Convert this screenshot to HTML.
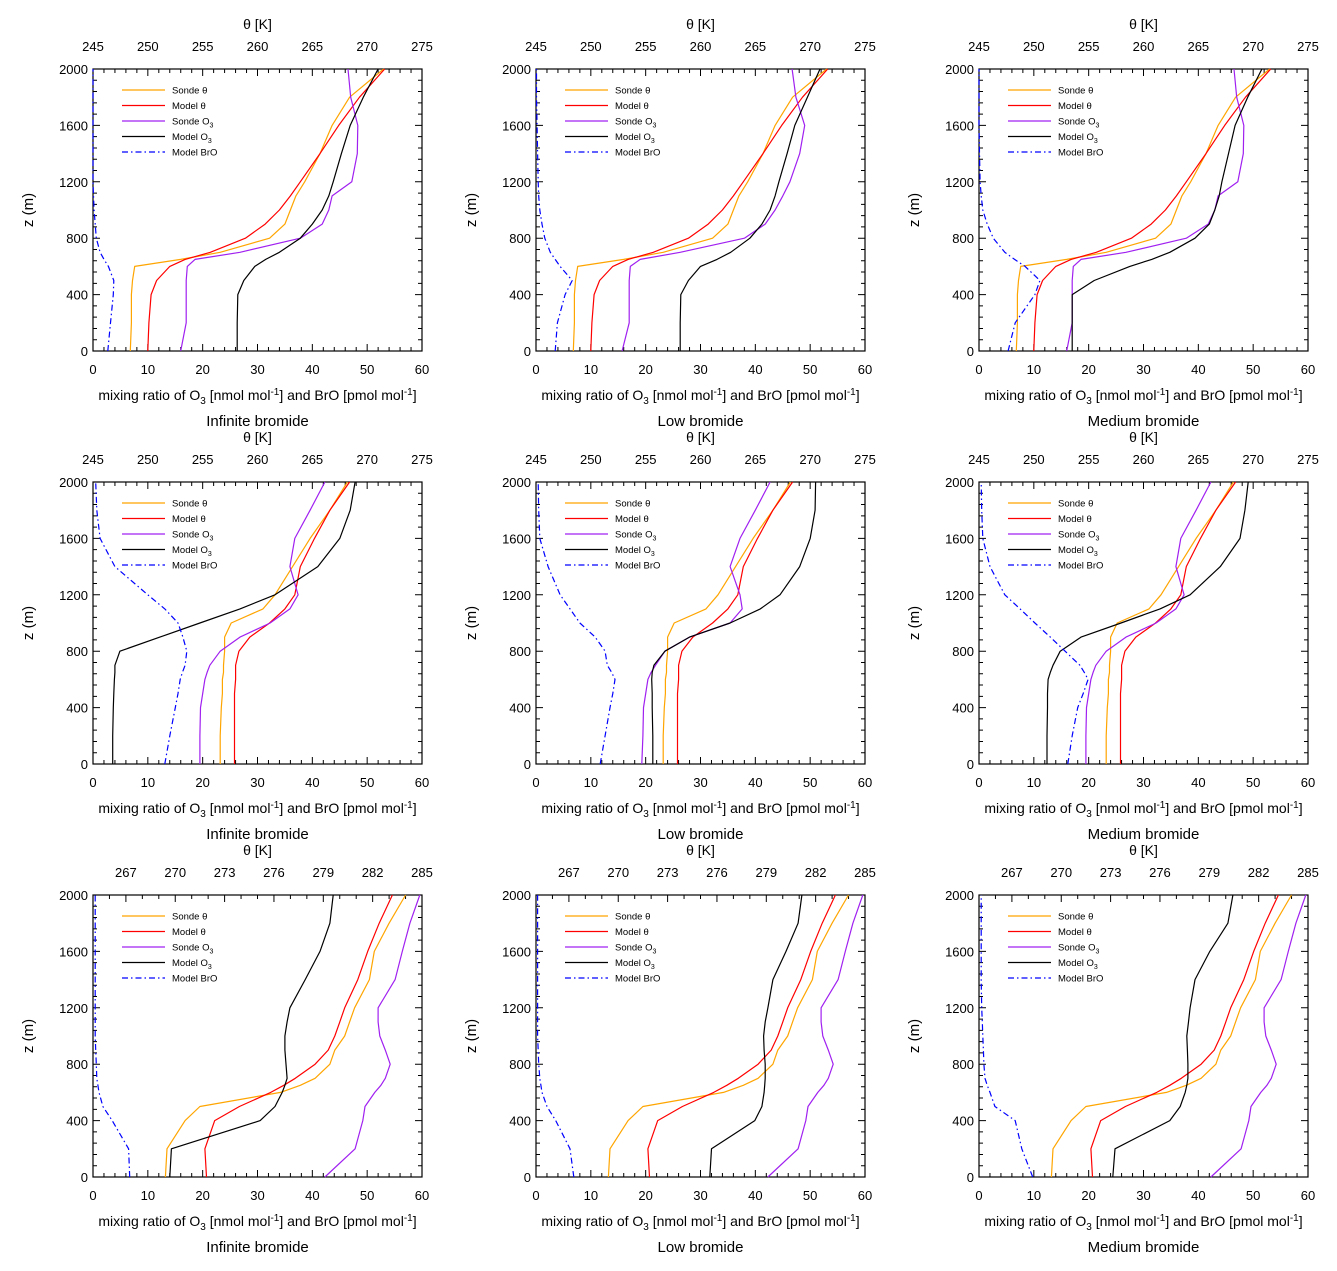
<!DOCTYPE html>
<html><head><meta charset="utf-8"><style>
body{margin:0;background:#fff}
svg{display:block;font-family:"Liberation Sans",sans-serif}
</style></head><body>
<svg id="chart" width="1337" height="1271" viewBox="0 0 1337 1271" xmlns="http://www.w3.org/2000/svg"></svg>
<script>
const Z=[0,200,400,500,600,650,700,800,900,1000,1100,1200,1400,1600,1800,2000];
const panelTitles=["Infinite bromide","Low bromide","Medium bromide"];
const thetaTicksA=[245,250,255,260,265,270,275];
const thetaTicksB=[267,270,273,276,279,282,285];
const xTicks=[0,10,20,30,40,50,60];
const zTicks=[0,400,800,1200,1600,2000];
const legendLabels=["Sonde θ","Model θ","Sonde O3","Model O3","Model BrO"];
// row 1
const sTh1=[248.4,248.5,248.5,248.6,248.8,253,256.6,261.1,262.5,263,263.5,264.3,265.7,266.8,268.4,271.5];
const mTh1=[250,250.1,250.3,250.8,252,253.4,255.7,258.9,260.7,262,263,263.9,265.7,267.4,269.3,271.6];
const sO3_1=[16,17,17,17,17.2,18.6,26.8,37.8,41.8,43,43.6,47.2,48.2,48.3,47,46.5];
const mO3_p1=[26.3,26.3,26.4,27.5,29.5,31.5,34,37.8,40,41.8,43,43.8,45.3,46.9,49.3,52];
const bro_p1=[2.7,3.2,3.7,3.8,2.8,2,1.3,0.6,0.4,0.2,0.1,0,0,0,0,0];
const sO3_p2=[15.7,17,17,17,17.2,19,26.3,38,41.8,43.6,45,46.3,48.1,49,47.4,46.7];
const mO3_p2=[26.3,26.3,26.4,27.8,30,33,35.5,39,41.2,42.7,43.6,44.3,45.8,47.2,49.5,51.8];
const bro_p2=[3.5,3.9,5.3,6.6,4.4,3.5,2.6,1.6,1.1,0.7,0.5,0.4,0.3,0.2,0.1,0.1];
const mO3_p3=[17,17,17,21,27.5,31.5,34.8,39.4,42,43,43.8,44.3,45.5,46.7,49,51.6];
const bro_p3=[5.3,6.6,10.2,11.1,8.4,6.5,4.7,2.6,1.5,0.7,0.4,0.2,0.1,0,0,0];
// row 2
const sTh2=[256.6,256.6,256.7,256.8,256.8,256.9,256.9,257,257,257.6,260.5,261.6,263.2,264.8,266.6,268.2];
const mTh2=[257.9,257.9,257.9,257.9,258,258,258,258.3,259.3,261.1,262.5,263.4,263.9,265.2,266.6,268.4];
const sO3_p4=[19.5,19.5,19.6,20,20.4,20.8,21.3,23.2,26.8,32.3,35.9,37.4,35.9,36.8,39.6,42.3];
const mO3_p4=[3.6,3.6,3.7,3.8,3.9,4,4,4.9,12.2,19.5,26.8,33.2,41,45,46.9,47.8];
const bro_p4=[13.1,14,15,15.5,15.9,16.3,16.8,17.1,16.4,15.5,13.1,10,4,1.3,0.7,0.5];
const sO3_p5=[19.3,19.5,19.6,20,20.4,21,21.8,23.5,28,35.4,37.6,37.2,35.4,37.2,40,42.7];
const mO3_p5=[21.3,21.3,21.2,21.2,21.1,21.2,21.5,23.5,28,35.4,40.9,44.5,48.1,50,50.9,51];
const bro_p5=[11.7,12.6,13.5,14,14.4,13.8,13,12.6,10.8,8,6.2,4.4,2.2,0.7,0.5,0.4];
const mO3_p6=[12.4,12.4,12.5,12.5,12.6,13,13.5,14.8,18.6,25.9,33,38.5,44,47.6,48.5,49.1];
const bro_p6=[16.2,17,18,19,19.9,19.2,18.4,15.7,13,10.2,7.5,4.7,2,0.7,0.5,0.4];
// row 3
const sTh3=[269.4,269.5,270.6,271.5,276.4,277.6,278.5,279.4,279.7,280.3,280.6,280.9,281.8,282.1,283,284];
const mTh3=[271.9,271.8,272.4,273.9,275.8,276.6,277.3,278.5,279.3,279.7,280,280.3,281.1,281.7,282.4,283.2];
const sO3_3=[42.3,47.8,49.2,49.6,51.4,52.5,53.3,54.2,53.3,52.3,52,52,55.1,56.4,57.8,59.6];
const mO3_p7=[14,14.3,30.5,33.2,34.5,35,35.4,35.2,35,35,35.4,35.9,38.7,41.4,43.2,43.8];
const bro_p7=[6.7,6.5,3.5,1.8,1.1,0.9,0.7,0.6,0.5,0.4,0.4,0.4,0.4,0.4,0.4,0.4];
const mO3_p8=[31.7,32,39.9,41.2,41.6,41.7,41.8,41.8,41.6,41.5,41.8,42.3,43.2,45.6,47.8,48.5];
const bro_p8=[6.9,6.2,3.6,2,1.1,0.9,0.7,0.5,0.4,0.3,0.3,0.3,0.3,0.3,0.3,0.3];
const mO3_p9=[24.4,24.8,34.8,36.7,37.6,37.9,38.1,38.1,38,37.9,38.2,38.5,39.4,42.1,45.4,46.3];
const bro_p9=[9.8,7.8,6.6,2.9,2,1.5,1.1,0.9,0.8,0.7,0.6,0.5,0.4,0.4,0.4,0.4];

const panels=[
 {r:0,c:0,sth:sTh1,mth:mTh1,so3:sO3_1,mo3:mO3_p1,bro:bro_p1},
 {r:0,c:1,sth:sTh1,mth:mTh1,so3:sO3_p2,mo3:mO3_p2,bro:bro_p2},
 {r:0,c:2,sth:sTh1,mth:mTh1,so3:sO3_1,mo3:mO3_p3,bro:bro_p3},
 {r:1,c:0,sth:sTh2,mth:mTh2,so3:sO3_p4,mo3:mO3_p4,bro:bro_p4},
 {r:1,c:1,sth:sTh2,mth:mTh2,so3:sO3_p5,mo3:mO3_p5,bro:bro_p5},
 {r:1,c:2,sth:sTh2,mth:mTh2,so3:sO3_p4,mo3:mO3_p6,bro:bro_p6},
 {r:2,c:0,sth:sTh3,mth:mTh3,so3:sO3_3,mo3:mO3_p7,bro:bro_p7},
 {r:2,c:1,sth:sTh3,mth:mTh3,so3:sO3_3,mo3:mO3_p8,bro:bro_p8},
 {r:2,c:2,sth:sTh3,mth:mTh3,so3:sO3_3,mo3:mO3_p9,bro:bro_p9}
];
const NS="http://www.w3.org/2000/svg";
const svg=document.getElementById('chart');
function mk(tag,attrs,parent,txt){const e=document.createElementNS(NS,tag);for(const k in attrs)e.setAttribute(k,attrs[k]);if(txt!==undefined)e.textContent=txt;(parent||svg).appendChild(e);return e;}
const W=329,H=282;
panels.forEach((p,i)=>{
 const x0=93+p.c*443, y0=69+p.r*413;
 const g=mk('g',{});
 
 
 const thMin=p.r===2?265:245, thMax=p.r===2?285:275;
 const xs=v=>x0+v/60*W;
 const ts=v=>x0+(v-thMin)/(thMax-thMin)*W;
 const ys=z=>y0+H-z/2000*H;
 // minor ticks
 let d='';
 for(let v=0;v<=60;v+=2){const x=xs(v);const L=v%10===0?7:4;d+=`M${x},${y0+H}v${-L}`;}
 for(let v=thMin;v<=thMax;v+=1){const x=ts(v);const maj=p.r===2?(v-267)%3===0&&v>=267:v%5===0;const L=maj?7:4;d+=`M${x},${y0}v${L}`;}
 for(let z=0;z<=2000;z+=80){const y=ys(z);const L=z%400===0?7:4;d+=`M${x0},${y}h${L}M${x0+W},${y}h${-L}`;}
 mk('path',{d:d,stroke:'#000','stroke-width':1,fill:'none'},g);
 const frame=mk('rect',{x:x0,y:y0,width:W,height:H,fill:'none',stroke:'#000','stroke-width':1.2},g);
 
 
 xTicks.forEach(v=>{const t=mk('text',{x:xs(v),y:y0+H+23,'font-size':13,'text-anchor':'middle'},g,v);
  
  });
 (p.r===2?thetaTicksB:thetaTicksA).forEach(v=>{const t=mk('text',{x:ts(v),y:y0-18,'font-size':13,'text-anchor':'middle'},g,v);
  
  });
 zTicks.forEach(v=>{const t=mk('text',{x:x0-5,y:ys(v)+5,'font-size':13,'text-anchor':'end'},g,v);
  
  });
 const tt=mk('text',{x:x0+W/2,y:y0-40,'font-size':14,'text-anchor':'middle'},g,'θ [K]');
 
 
 const yt=mk('text',{x:0,y:0,'font-size':15,'text-anchor':'middle',transform:`translate(${x0-60},${y0+H/2}) rotate(-90)`},g,'z (m)');
 
 
 const xt=mk('text',{x:x0+W/2,y:y0+H+49,'font-size':14,'text-anchor':'middle'},g);
 
 
 xt.innerHTML='mixing ratio of O<tspan font-size="10" dy="4">3</tspan><tspan dy="-4"> [nmol mol</tspan><tspan font-size="10" dy="-5">-1</tspan><tspan dy="5">] and BrO [pmol mol</tspan><tspan font-size="10" dy="-5">-1</tspan><tspan dy="5">]</tspan>';
 const pt=mk('text',{x:x0+W/2,y:y0+H+75,'font-size':15,'text-anchor':'middle'},g,panelTitles[p.c]);
 
 
 const series=[
  {v:p.sth,f:ts,c:'#ffa500',n:'sonde-theta-line',dash:null,start:0},
  {v:p.mth,f:ts,c:'#ff0000',n:'model-theta-line',dash:null,start:0},
  {v:p.so3,f:xs,c:'#a020f0',n:'sonde-o3-line',dash:null,start:0},
  {v:p.mo3,f:xs,c:'#000000',n:'model-o3-line',dash:null,start:0},
  {v:p.bro,f:xs,c:'#0000ff',n:'model-bro-line',dash:'6,3,1.5,3',start:0}
 ];
 series.forEach(s=>{
  const pts=s.v.map((v,k)=>s.f(v).toFixed(1)+','+ys(Z[k]).toFixed(1)).join(' ');
  const a={points:pts,fill:'none',stroke:s.c,'stroke-width':1.2,'stroke-linejoin':'round'};
  if(s.dash)a['stroke-dasharray']=s.dash;
  const l=mk('polyline',a,g);
  
  
 });
 // legend
 const lg=mk('g',{},g);
 
 
 series.forEach((s,k)=>{
  const ly=y0+21+k*15.5;
  const a={x1:x0+29,x2:x0+72,y1:ly,y2:ly,stroke:s.c,'stroke-width':1.2};
  if(s.dash)a['stroke-dasharray']=s.dash;
  mk('line',a,lg);
  const t=mk('text',{x:x0+79,y:ly+3.5,'font-size':9.5},lg);
  
  
  const lab=legendLabels[k];
  if(lab.endsWith('O3')){t.innerHTML=lab.slice(0,-1)+'<tspan font-size="7" dy="3">3</tspan>';}
  else t.textContent=lab;
 });
});
</script>
</body></html>
